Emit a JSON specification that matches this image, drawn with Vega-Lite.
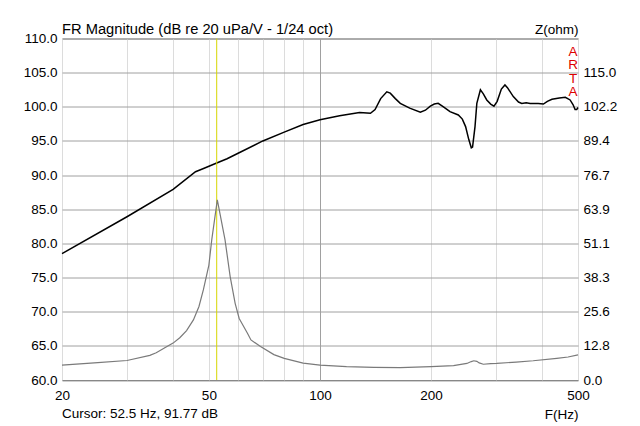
{
  "$schema": "https://vega.github.io/schema/vega-lite/v6.json",
  "width": 516,
  "height": 341.5,
  "autosize": "none",
  "padding": {"left": 62, "top": 38.5, "right": 62, "bottom": 46},
  "background": "white",
  "config": {
    "view": {"stroke": "#707070", "strokeWidth": 1},
    "font": "Liberation Sans",
    "axis": {"labelFont": "Liberation Sans", "titleFont": "Liberation Sans", "labelColor": "black", "titleColor": "black", "labelFontSize": 13.5, "titleFontSize": 13.5, "titleFontWeight": "normal", "ticks": false, "domain": false, "labelFlush": false, "labelOverlap": false}
  },
  "title": {"text": "FR Magnitude (dB re 20 uPa/V - 1/24 oct)", "anchor": "start", "frame": "group", "fontSize": 14.7, "fontWeight": "normal", "font": "Liberation Sans", "color": "black", "offset": 4, "dy": 18.5},
  "datasets": {
    "fr": [
      {"f": 20, "db": 78.5}, {"f": 30, "db": 83.9}, {"f": 40, "db": 87.9}, {"f": 46, "db": 90.5}, {"f": 48, "db": 90.9},
      {"f": 52.5, "db": 91.77}, {"f": 56, "db": 92.4}, {"f": 60, "db": 93.2}, {"f": 70, "db": 95.0}, {"f": 80, "db": 96.3},
      {"f": 90, "db": 97.4}, {"f": 100, "db": 98.1}, {"f": 113, "db": 98.7}, {"f": 128, "db": 99.15}, {"f": 134, "db": 99.1},
      {"f": 137, "db": 99.05}, {"f": 141, "db": 99.6}, {"f": 146, "db": 101.2}, {"f": 151.7, "db": 102.2}, {"f": 155, "db": 102.0},
      {"f": 160, "db": 101.2}, {"f": 165, "db": 100.5}, {"f": 175, "db": 99.8}, {"f": 187, "db": 99.2}, {"f": 193, "db": 99.5},
      {"f": 199, "db": 100.1}, {"f": 204, "db": 100.4}, {"f": 209, "db": 100.5}, {"f": 216, "db": 100.0}, {"f": 225, "db": 99.3},
      {"f": 237, "db": 98.8}, {"f": 243, "db": 98.2}, {"f": 248, "db": 97.1}, {"f": 253, "db": 95.2}, {"f": 257, "db": 94.0},
      {"f": 259, "db": 94.1}, {"f": 263, "db": 97.1}, {"f": 266, "db": 100.5}, {"f": 272, "db": 102.5}, {"f": 277, "db": 101.9},
      {"f": 283, "db": 101.0}, {"f": 290, "db": 100.4}, {"f": 296, "db": 100.1}, {"f": 302, "db": 100.8}, {"f": 310, "db": 102.6},
      {"f": 317, "db": 103.2}, {"f": 322, "db": 102.8}, {"f": 334, "db": 101.5}, {"f": 345, "db": 100.7}, {"f": 352, "db": 100.5},
      {"f": 362, "db": 100.6}, {"f": 371, "db": 100.5}, {"f": 390, "db": 100.5}, {"f": 403, "db": 100.4}, {"f": 413, "db": 100.8},
      {"f": 425, "db": 101.1}, {"f": 445, "db": 101.3}, {"f": 462, "db": 101.4}, {"f": 476, "db": 101.0}, {"f": 485, "db": 100.3},
      {"f": 491, "db": 99.6}, {"f": 496, "db": 99.6}, {"f": 500, "db": 99.9}
    ],
    "z": [
      {"f": 20, "ohm": 5.6}, {"f": 25, "ohm": 6.5}, {"f": 30, "ohm": 7.3}, {"f": 34.6, "ohm": 9.2}, {"f": 36, "ohm": 10.2},
      {"f": 38.5, "ohm": 12.5}, {"f": 40, "ohm": 13.8}, {"f": 41.7, "ohm": 15.8}, {"f": 43.5, "ohm": 18.5}, {"f": 45.4, "ohm": 22.5},
      {"f": 47, "ohm": 27.5}, {"f": 48.3, "ohm": 33.7}, {"f": 50, "ohm": 43}, {"f": 50.9, "ohm": 52.4}, {"f": 52.7, "ohm": 67.4},
      {"f": 55.3, "ohm": 52.4}, {"f": 57.1, "ohm": 38.7}, {"f": 58.9, "ohm": 28.7}, {"f": 60.4, "ohm": 23}, {"f": 63.6, "ohm": 17.5},
      {"f": 65, "ohm": 15}, {"f": 69, "ohm": 12.5}, {"f": 75, "ohm": 9.5}, {"f": 80, "ohm": 8.1}, {"f": 90, "ohm": 6.3},
      {"f": 100, "ohm": 5.6}, {"f": 118, "ohm": 5.0}, {"f": 140, "ohm": 4.7}, {"f": 165, "ohm": 4.6}, {"f": 200, "ohm": 5.0},
      {"f": 230, "ohm": 5.4}, {"f": 250, "ohm": 6.2}, {"f": 257, "ohm": 6.9}, {"f": 261, "ohm": 7.2}, {"f": 266, "ohm": 7.0},
      {"f": 270, "ohm": 6.4}, {"f": 277, "ohm": 5.9}, {"f": 290, "ohm": 6.1}, {"f": 301, "ohm": 6.2}, {"f": 340, "ohm": 6.7},
      {"f": 378, "ohm": 7.2}, {"f": 438, "ohm": 8.1}, {"f": 470, "ohm": 8.6}, {"f": 500, "ohm": 9.4}
    ]
  },
  "layer": [
    {
      "layer": [
        {
          "data": {"name": "fr"},
          "mark": {"type": "line", "color": "black", "strokeWidth": 1.5},
          "encoding": {
            "x": {
              "field": "f", "type": "quantitative",
              "scale": {"type": "log", "domain": [20, 500], "nice": false},
              "axis": {
                "values": [20, 30, 40, 50, 60, 70, 80, 90, 100, 200, 300, 400, 500],
                "labelExpr": "indexof([20, 50, 100, 200, 500], datum.value) >= 0 ? datum.label : ''",
                "grid": true,
                "gridColor": {"condition": {"test": "datum.value == 100", "value": "#a0a0a0"}, "value": "#dcdcdc"},
                "gridWidth": 1,
                "labelPadding": 8,
                "title": "F(Hz)",
                "titleAnchor": "end",
                "titleAlign": "right",
                "titleBaseline": "middle",
                "titleX": 516,
                "titleY": 34
              }
            },
            "y": {
              "field": "db", "type": "quantitative",
              "scale": {"domain": [60, 110], "nice": false, "zero": false},
              "axis": {
                "values": [60, 65, 70, 75, 80, 85, 90, 95, 100, 105, 110],
                "format": ".1f",
                "grid": true,
                "gridColor": "#a0a0a0",
                "labelPadding": 5,
                "title": null
              }
            }
          }
        },
        {
          "data": {"values": [{}]},
          "mark": {"type": "rule", "color": "#d6d600", "strokeWidth": 1},
          "encoding": {"x": {"datum": 52.5, "type": "quantitative"}}
        },
        {
          "data": {"values": [{"t": "Cursor: 52.5 Hz, 91.77 dB"}]},
          "mark": {"type": "text", "align": "left", "baseline": "middle", "fontSize": 13.5, "color": "black", "font": "Liberation Sans"},
          "encoding": {
            "x": {"datum": 20, "type": "quantitative"},
            "y": {
              "datum": 55.0, "type": "quantitative",
              "scale": {"domain": [60, 110], "nice": false, "zero": false},
              "axis": {
                "values": [60, 65, 70, 75, 80, 85, 90, 95, 100, 105, 110],
                "format": ".1f",
                "grid": true,
                "gridColor": "#a0a0a0",
                "labelPadding": 5,
                "title": null
              }
            },
            "text": {"field": "t"}
          }
        },
        {
          "data": {"values": [{}]},
          "mark": {"type": "text", "text": ["A", "R", "T", "A"], "align": "center", "baseline": "top", "fontSize": 13.5, "lineHeight": 13.6, "color": "#dd0000", "font": "Liberation Sans", "dx": -5, "dy": 6},
          "encoding": {
            "x": {"datum": 500, "type": "quantitative"},
            "y": {
              "datum": 110, "type": "quantitative",
              "scale": {"domain": [60, 110], "nice": false, "zero": false},
              "axis": {
                "values": [60, 65, 70, 75, 80, 85, 90, 95, 100, 105, 110],
                "format": ".1f",
                "grid": true,
                "gridColor": "#a0a0a0",
                "labelPadding": 5,
                "title": null
              }
            }
          }
        }
      ]
    },
    {
      "data": {"name": "z"},
      "mark": {"type": "line", "color": "#7a7a7a", "strokeWidth": 1.2},
      "encoding": {
        "x": {"field": "f", "type": "quantitative"},
        "y": {
          "field": "ohm", "type": "quantitative",
          "scale": {"domain": [0, 127.77], "nice": false, "zero": false},
          "axis": {
            "orient": "right",
            "values": [0, 12.777, 25.554, 38.331, 51.108, 63.885, 76.662, 89.439, 102.216, 114.993],
            "format": ".1f",
            "grid": false,
            "labelPadding": 5,
            "title": "Z(ohm)",
            "titleAngle": 0,
            "titleAlign": "right",
            "titleBaseline": "middle",
            "titleX": 0,
            "titleY": -9
          }
        }
      }
    }
  ],
  "resolve": {"scale": {"y": "independent"}}
}
